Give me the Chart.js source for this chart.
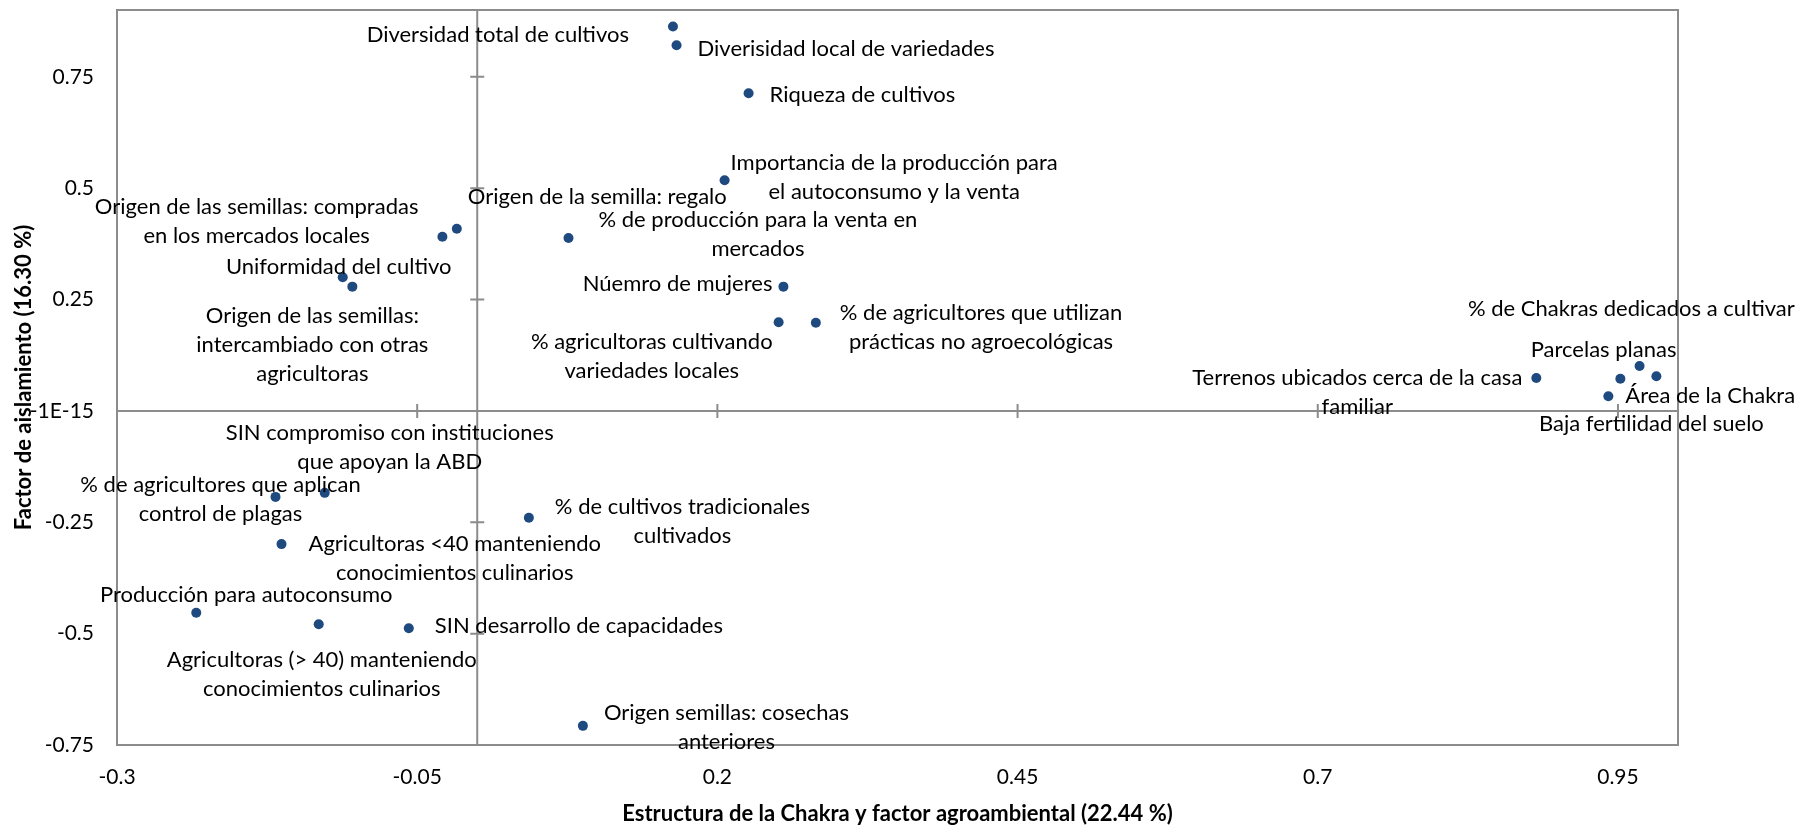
<!DOCTYPE html>
<html>
<head>
<meta charset="utf-8">
<script src="https://cdn.jsdelivr.net/npm/chart.js@4.4.0/dist/chart.umd.min.js"></script>
<style>
  html, body { margin: 0; padding: 0; background: #fff; }
  #wrap { width: 1800px; height: 826px; }
</style>
</head>
<body>
<div id="wrap"><canvas id="chart" width="1800" height="826"></canvas></div>
<script>
const pointLabels = [
  'Diversidad total de cultivos',
  'Diverisidad local de variedades',
  'Riqueza de cultivos',
  'Importancia de la producción para\nel autoconsumo y la venta',
  'Origen de la semilla: regalo',
  '% de producción para la venta en\nmercados',
  'Origen de las semillas: compradas\nen los mercados locales',
  'Uniformidad del cultivo',
  'Origen de las semillas:\nintercambiado con otras\nagricultoras',
  'Núemro de mujeres',
  '% agricultoras cultivando\nvariedades locales',
  '% de agricultores que utilizan\nprácticas no agroecológicas',
  '% de Chakras dedicados a cultivar',
  'Parcelas planas',
  'Terrenos ubicados cerca de la casa\nfamiliar',
  'Área de la Chakra',
  'Baja fertilidad del suelo',
  'SIN compromiso con instituciones\nque apoyan la ABD',
  '% de agricultores que aplican\ncontrol de plagas',
  '% de cultivos tradicionales\ncultivados',
  'Agricultoras <40 manteniendo\nconocimientos culinarios',
  'Producción para autoconsumo',
  'Agricultoras (> 40) manteniendo\nconocimientos culinarios',
  'SIN desarrollo de capacidades',
  'Origen semillas: cosechas\nanteriores'
];
const xValues = [
  0.163, 0.166, 0.226, 0.206, -0.017, 0.076, -0.029, -0.112, -0.104, 0.255,
  0.251, 0.282, 0.952, 0.968, 0.882, 0.942, 0.982, -0.127, -0.168, 0.043,
  -0.163, -0.234, -0.132, -0.057, 0.088
];
const yValues = [
  0.863, 0.821, 0.713, 0.518, 0.409, 0.388, 0.391, 0.300, 0.279, 0.279,
  0.199, 0.198, 0.072, 0.101, 0.074, 0.033, 0.078, -0.184, -0.193, -0.240,
  -0.299, -0.453, -0.479, -0.488, -0.707
];
const xTicks = [-0.3, -0.05, 0.2, 0.45, 0.7, 0.95];
const xTickLabels = ['-0.3', '-0.05', '0.2', '0.45', '0.7', '0.95'];
const yTicks = [-0.75, -0.5, -0.25, 0, 0.25, 0.5, 0.75];
const yTickLabels = ['-0.75', '-0.5', '-0.25', '-1E-15', '0.25', '0.5', '0.75'];

// label placement next to its point: side, dx, dy in px
const labelPlacement = [
  ['left', -44, 8], ['right', 21, 4], ['right', 21, 2], ['right', 6, -3],
  ['right', 11, -32], ['right', 30, -4], ['left', -24, -15], ['center', -4, -10],
  ['center', -40, 58], ['left', -11, -3], ['left', -6, 34], ['right', 24, 5],
  ['center', 11, -70], ['center', -36, -16], ['left', -14, 14], ['right', 17, 0],
  ['center', -5, 48], ['center', 65, -45], ['center', -55, 3], ['right', 26, 4],
  ['right', 27, 14], ['center', 50, -18], ['center', 3, 50], ['right', 26, -2],
  ['right', 21, 2]
];

const FONT = 'Lato';
const axisGray = '#8c8c8c';

// plot frame plus the two zero axes with cross ticks
const axisCross = {
  id: 'axisCross',
  beforeDatasetsDraw(chart) {
    const { ctx, chartArea: a, scales: { x, y } } = chart;
    const x0 = x.getPixelForValue(0);
    const y0 = y.getPixelForValue(0);
    ctx.save();
    ctx.strokeStyle = axisGray;
    ctx.lineWidth = 2;
    ctx.strokeRect(a.left, a.top, a.width, a.height);
    ctx.beginPath();
    ctx.moveTo(x0, a.top); ctx.lineTo(x0, a.bottom);
    ctx.moveTo(a.left, y0); ctx.lineTo(a.right, y0);
    xTicks.forEach(v => {
      const p = x.getPixelForValue(v);
      ctx.moveTo(p, y0 - 7); ctx.lineTo(p, y0 + 7);
    });
    yTicks.forEach(v => {
      const p = y.getPixelForValue(v);
      ctx.moveTo(x0 - 7, p); ctx.lineTo(x0 + 7, p);
    });
    ctx.stroke();
    ctx.restore();
  }
};

const pointText = {
  id: 'pointText',
  afterDatasetsDraw(chart) {
    const { ctx } = chart;
    const meta = chart.getDatasetMeta(0);
    const lh = 29;
    ctx.save();
    ctx.font = `22px ${FONT}`;
    ctx.fillStyle = '#000';
    ctx.textAlign = 'center';
    ctx.textBaseline = 'middle';
    meta.data.forEach((pt, i) => {
      const lines = pointLabels[i].split('\n');
      const [side, dx, dy] = labelPlacement[i];
      const w = Math.max(...lines.map(l => ctx.measureText(l).width));
      let cx = pt.x + dx;
      if (side === 'right') cx += w / 2;
      if (side === 'left') cx -= w / 2;
      const cy = pt.y + dy;
      lines.forEach((l, k) => {
        ctx.fillText(l, cx, cy + (k - (lines.length - 1) / 2) * lh);
      });
    });
    ctx.restore();
  }
};

new Chart(document.getElementById('chart'), {
  type: 'scatter',
  data: {
    datasets: [{
      data: xValues.map((v, i) => ({ x: v, y: yValues[i] })),
      backgroundColor: '#1f4a80',
      borderWidth: 0,
      pointRadius: 5,
      clip: false
    }]
  },
  options: {
    responsive: false,
    animation: false,
    layout: { padding: { top: 10, right: 122, bottom: 0, left: 0 } },
    plugins: { legend: { display: false }, tooltip: { enabled: false } },
    scales: {
      x: {
        type: 'linear',
        min: -0.3,
        max: 1.0,
        afterBuildTicks: s => { s.ticks = xTicks.map(v => ({ value: v })); },
        afterFit: s => { s.height = 81; s.paddingLeft = 0; s.paddingRight = 0; },
        grid: { display: false, drawTicks: false },
        border: { display: false },
        ticks: {
          padding: 20,
          maxRotation: 0,
          autoSkip: false,
          color: '#000',
          font: { family: FONT, size: 21 },
          callback: (v, i) => xTickLabels[i]
        },
        title: {
          display: true,
          text: 'Estructura de la Chakra y factor agroambiental (22.44 %)',
          color: '#000',
          font: { family: FONT, size: 22, weight: 'bold' },
          padding: { top: 0, bottom: -1 }
        }
      },
      y: {
        type: 'linear',
        min: -0.75,
        max: 0.9,
        afterBuildTicks: s => { s.ticks = yTicks.map(v => ({ value: v })); },
        afterFit: s => { s.width = 117; s.paddingTop = 0; s.paddingBottom = 0; },
        grid: { display: false, drawTicks: false },
        border: { display: false },
        ticks: {
          padding: 23,
          autoSkip: false,
          color: '#000',
          font: { family: FONT, size: 21 },
          callback: (v, i) => yTickLabels[i]
        },
        title: {
          display: true,
          text: 'Factor de aislamiento (16.30 %)',
          color: '#000',
          font: { family: FONT, size: 22, weight: 'bold' },
          padding: { top: 11, bottom: 0 }
        }
      }
    }
  },
  plugins: [axisCross, pointText]
});
</script>
</body>
</html>
